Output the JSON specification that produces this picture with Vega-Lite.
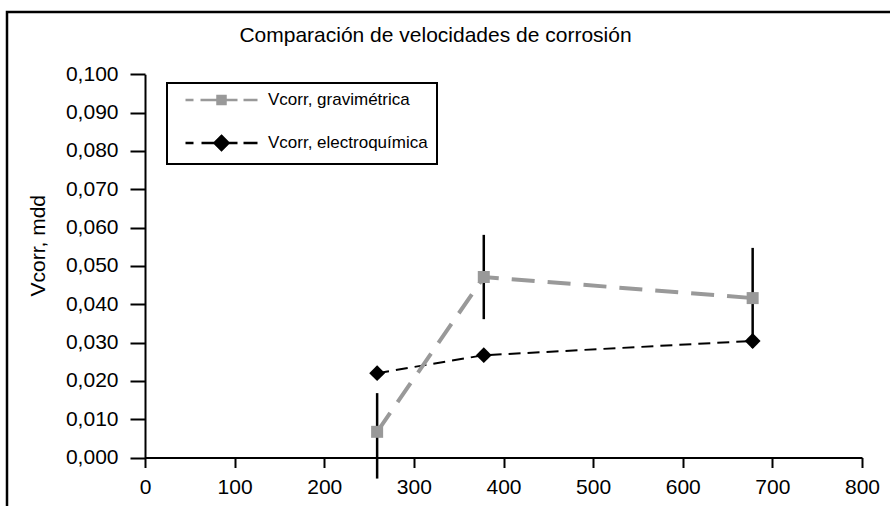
{
  "$schema": "https://vega.github.io/schema/vega-lite/v6.json",
  "width": 905,
  "height": 517,
  "autosize": {"type": "none"},
  "padding": {"left": 7, "top": 12, "right": -22, "bottom": -23},
  "background": "white",
  "title": {
    "text": "Comparación de velocidades de corrosión",
    "anchor": "middle",
    "frame": "group",
    "orient": "top",
    "offset": 0,
    "dx": -24,
    "dy": 51,
    "baseline": "alphabetic",
    "font": "Liberation Sans",
    "fontSize": 21,
    "fontWeight": "normal",
    "color": "black"
  },
  "config": {
    "font": "Liberation Sans",
    "view": {"stroke": "black", "strokeWidth": 2.5},
    "legend": {"strokeWidth": 2},
    "axisX": {
      "offset": -71.5,
      "grid": false,
      "domainColor": "black", "domainWidth": 2,
      "tickColor": "black", "tickWidth": 2, "tickSize": 10,
      "labelFont": "Liberation Sans", "labelFontSize": 21, "labelColor": "black",
      "labelPadding": 9, "labelFlush": false, "labelOverlap": false
    },
    "axisY": {
      "offset": -138,
      "grid": false,
      "domainColor": "black", "domainWidth": 2,
      "tickColor": "black", "tickWidth": 2, "tickSize": 15,
      "labelFont": "Liberation Sans", "labelFontSize": 21, "labelColor": "black",
      "labelPadding": 12, "labelFlush": false, "labelOverlap": false,
      "titleFont": "Liberation Sans", "titleFontSize": 21, "titleFontWeight": "normal", "titleColor": "black",
      "titleAngle": -90, "titleAlign": "left", "titleBaseline": "alphabetic",
      "titleX": -101, "titleY": 284
    }
  },
  "data": {
    "values": [
      {"serie": "Vcorr, gravimétrica", "x": 259, "v": 0.0067, "lo": -0.0055, "hi": 0.0168},
      {"serie": "Vcorr, gravimétrica", "x": 378, "v": 0.0471, "lo": 0.0361, "hi": 0.0581},
      {"serie": "Vcorr, gravimétrica", "x": 678, "v": 0.0416, "lo": 0.0286, "hi": 0.0547},
      {"serie": "Vcorr, electroquímica", "x": 259, "v": 0.0220},
      {"serie": "Vcorr, electroquímica", "x": 378, "v": 0.0267},
      {"serie": "Vcorr, electroquímica", "x": 678, "v": 0.0304}
    ]
  },
  "encoding": {
    "x": {
      "field": "x", "type": "quantitative", "title": null,
      "scale": {"domain": [0, 800], "range": [138, 855], "nice": false, "zero": false},
      "axis": {"values": [0, 100, 200, 300, 400, 500, 600, 700, 800]}
    },
    "y": {
      "field": "v", "type": "quantitative", "title": "Vcorr, mdd",
      "scale": {"domain": [0, 0.1], "range": [445.5, 62.3], "nice": false, "zero": false},
      "axis": {
        "values": [0, 0.01, 0.02, 0.03, 0.04, 0.05, 0.06, 0.07, 0.08, 0.09, 0.1],
        "labelExpr": "replace(format(datum.value, '.3f'), '.', ',')"
      }
    }
  },
  "layer": [
    {
      "transform": [{"filter": "datum.serie === 'Vcorr, electroquímica'"}],
      "mark": {"type": "line", "color": "black", "strokeWidth": 2, "strokeDash": [12, 7]}
    },
    {
      "transform": [{"filter": "datum.serie === 'Vcorr, gravimétrica'"}],
      "mark": {"type": "line", "color": "#999999", "strokeWidth": 4, "strokeDash": [23, 13]}
    },
    {
      "transform": [{"filter": "datum.serie === 'Vcorr, gravimétrica'"}],
      "mark": {"type": "rule", "color": "black", "strokeWidth": 2.5},
      "encoding": {
        "y": {
          "field": "lo", "type": "quantitative", "title": "Vcorr, mdd",
          "axis": {
            "values": [0, 0.01, 0.02, 0.03, 0.04, 0.05, 0.06, 0.07, 0.08, 0.09, 0.1],
            "labelExpr": "replace(format(datum.value, '.3f'), '.', ',')"
          }
        },
        "y2": {"field": "hi"}
      }
    },
    {
      "transform": [{"filter": "datum.serie === 'Vcorr, gravimétrica'"}],
      "mark": {"type": "point", "shape": "square", "filled": true, "color": "#999999", "size": 144, "opacity": 1}
    },
    {
      "transform": [{"filter": "datum.serie === 'Vcorr, electroquímica'"}],
      "mark": {"type": "point", "shape": "diamond", "filled": true, "color": "black", "size": 250, "opacity": 1}
    },
    {
      "mark": {"type": "point", "filled": true, "opacity": 0},
      "encoding": {
        "color": {
          "field": "serie", "type": "nominal",
          "scale": {"domain": ["Vcorr, gravimétrica", "Vcorr, electroquímica"], "range": ["#999999", "#000000"]},
          "legend": {
            "orient": "none", "legendX": 160, "legendY": 71,
            "title": null,
            "strokeColor": "black", "fillColor": "white",
            "padding": 8.5, "cornerRadius": 0,
            "symbolSize": 100, "symbolStrokeWidth": 2.5, "symbolOpacity": 1,
            "labelFont": "Liberation Sans", "labelFontSize": 17, "labelColor": "black",
            "labelOffset": 75.5, "rowPadding": 21,
            "encode": {
              "symbols": {
                "update": {
                  "opacity": {"value": 1},
                  "stroke": {"scale": "color", "field": "value"},
                  "strokeWidth": {"value": 2.5}
                }
              }
            }
          }
        },
        "shape": {
          "field": "serie", "type": "nominal",
          "scale": {
            "domain": ["Vcorr, gravimétrica", "Vcorr, electroquímica"],
            "range": [
              "M0.3,0H1.9M3.3,0H6.5M8.5,0H10.7M11.9,0H14.7M6.7,-0.8H8.3V0.8H6.7Z",
              "M0.3,0H1.9M3.5,0H6.1M8.9,0H10.7M11.9,0H14.7M7.5,-1.4L8.9,0L7.5,1.4L6.1,0Z"
            ]
          }
        }
      }
    }
  ]
}
